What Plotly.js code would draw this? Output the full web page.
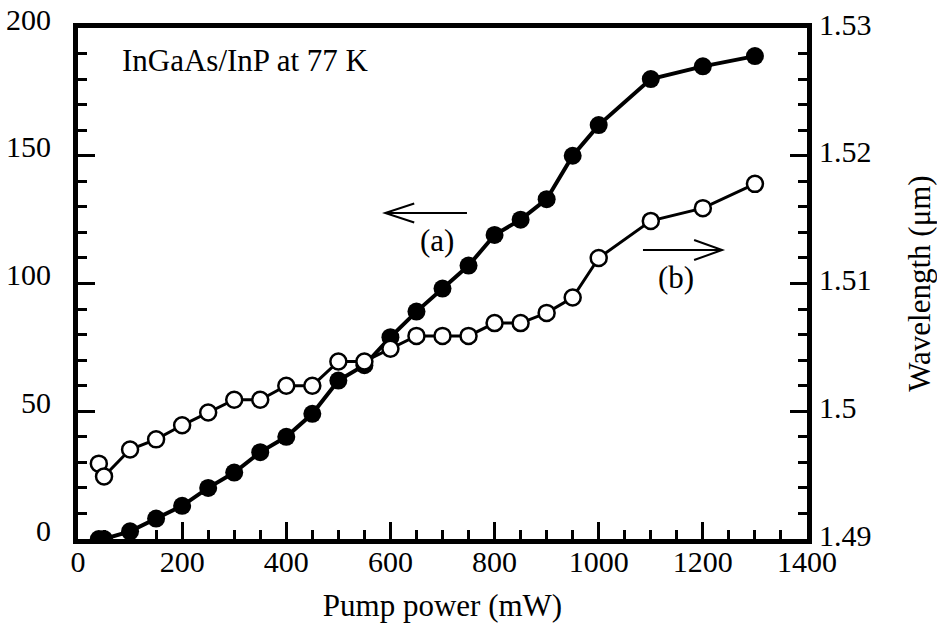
<!DOCTYPE html>
<html>
<head>
<meta charset="utf-8">
<script src="https://cdn.plot.ly/plotly-3.0.1.min.js"></script>
<style>html,body{margin:0;padding:0;background:#fff;}#chart{width:937px;height:629px;}</style>
</head>
<body>
<div id="chart"></div>
<script>
// Pump power (mW)
const pumpPower = [40, 50, 100, 150, 200, 250, 300, 350, 400, 450, 500, 550, 600, 650, 700, 750, 800, 850, 900, 950, 1000, 1100, 1200, 1300];
// (a) output (left axis, filled circles)
const outputA = [0, 0, 3, 8, 13, 20, 26, 34, 40, 49, 62, 68, 79, 89, 98, 107, 119, 125, 133, 150, 162, 180, 185, 189];
// (b) wavelength in µm (right axis, open circles)
const wavelengthB = [1.4959, 1.4949, 1.4970, 1.4978, 1.4989, 1.4999, 1.5009, 1.5009, 1.5020, 1.5020, 1.5039, 1.5039, 1.5049, 1.5059, 1.5059, 1.5059, 1.5069, 1.5069, 1.5077, 1.5089, 1.5120, 1.5149, 1.5159, 1.5178];

const FONT = "'Liberation Serif', 'Times New Roman', serif";
const TICK_SIZE = 30;
const TEXT_SIZE = 31;

const traces = [
  {
    x: pumpPower, y: wavelengthB, yaxis: 'y2', type: 'scatter', mode: 'lines+markers',
    line: {color: '#000', width: 3},
    marker: {symbol: 'circle', size: 16, color: '#fff', line: {color: '#000', width: 2.5}},
    showlegend: false, hoverinfo: 'skip'
  },
  {
    x: pumpPower, y: outputA, type: 'scatter', mode: 'lines+markers',
    line: {color: '#000', width: 4},
    marker: {symbol: 'circle', size: 18, color: '#000'},
    showlegend: false, hoverinfo: 'skip'
  }
];

const axisCommon = {
  ticks: 'inside', ticklen: 17, tickwidth: 3, tickcolor: '#000',
  showline: true, linewidth: 5, linecolor: '#000',
  showgrid: false, zeroline: false,
  tickfont: {family: FONT, size: TICK_SIZE, color: '#000'}
};
const minorCommon = {ticks: 'inside', ticklen: 9, tickwidth: 3, tickcolor: '#000'};

// Arrow shafts (data coords) and heads (pixel-sized paths anchored at tips)
const arrowA = {tail: 747, tip: 590, y: 127.6};
const arrowB = {tail: 1085, tip: 1237, y: 113.1};

const shapes = [
  {type: 'line', xref: 'x', yref: 'y', x0: arrowA.tail, x1: arrowA.tip, y0: arrowA.y, y1: arrowA.y,
   line: {color: '#000', width: 2}},
  {type: 'path', xref: 'x', yref: 'y', xsizemode: 'pixel', ysizemode: 'pixel',
   xanchor: arrowA.tip, yanchor: arrowA.y, path: 'M 29,9.5 L 0,0 L 29,-9.5',
   line: {color: '#000', width: 2}},
  {type: 'line', xref: 'x', yref: 'y', x0: arrowB.tail, x1: arrowB.tip, y0: arrowB.y, y1: arrowB.y,
   line: {color: '#000', width: 2}},
  {type: 'path', xref: 'x', yref: 'y', xsizemode: 'pixel', ysizemode: 'pixel',
   xanchor: arrowB.tip, yanchor: arrowB.y, path: 'M -28,10 L 0,0 L -28,-10',
   line: {color: '#000', width: 2}}
];

const layout = {
  width: 937, height: 629,
  margin: {l: 78, r: 130, t: 28, b: 90},
  paper_bgcolor: '#fff', plot_bgcolor: '#fff',
  font: {family: FONT, color: '#000'},
  xaxis: Object.assign({}, axisCommon, {
    range: [0, 1400], dtick: 200, tick0: 0, mirror: true,
    minor: Object.assign({dtick: 50}, minorCommon),
    ticklabelstandoff: -8,
    title: {text: 'Pump power (mW)', font: {family: FONT, size: TEXT_SIZE, color: '#000'}, standoff: 19}
  }),
  yaxis: Object.assign({}, axisCommon, {
    range: [0, 200], dtick: 50, tick0: 0,
    minor: Object.assign({dtick: 10}, minorCommon),
    ticklabelstandoff: 16, ticklabelshift: -9
  }),
  yaxis2: Object.assign({}, axisCommon, {
    range: [1.49, 1.53], dtick: 0.01, tick0: 1.49, overlaying: 'y', side: 'right',
    minor: Object.assign({dtick: 0.002}, minorCommon),
    ticklabelstandoff: 1, ticklabelshift: -4,
    title: {text: 'Wavelength (μm)', font: {family: FONT, size: TEXT_SIZE, color: '#000'}, standoff: 42}
  }),
  shapes: shapes,
  annotations: [
    {x: 0.0576, y: 0.937, xref: 'paper', yref: 'paper', xanchor: 'left', yanchor: 'middle',
     text: 'InGaAs/InP at 77 K', showarrow: false, font: {family: FONT, size: TEXT_SIZE, color: '#000'}},
    {x: 689, y: 117, xref: 'x', yref: 'y', text: '(a)', showarrow: false,
     font: {family: FONT, size: TEXT_SIZE, color: '#000'}},
    {x: 1148, y: 102.5, xref: 'x', yref: 'y', text: '(b)', showarrow: false,
     font: {family: FONT, size: TEXT_SIZE, color: '#000'}}
  ]
};

Plotly.newPlot('chart', traces, layout, {staticPlot: true, displayModeBar: false});
</script>
</body>
</html>
